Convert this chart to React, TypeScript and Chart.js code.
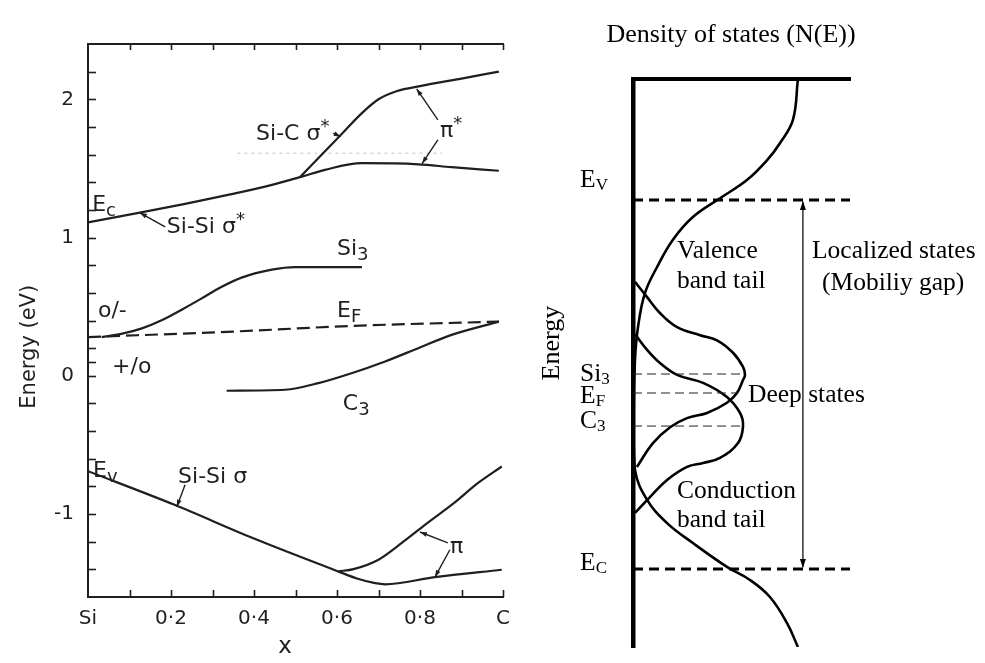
import React, { useEffect, useRef } from 'react';
import { Chart, registerables } from 'chart.js';

Chart.register(...registerables);

const LEFT_FONT = '"DejaVu Sans", "Liberation Sans", sans-serif';
const RIGHT_FONT = '"Liberation Serif", "Times New Roman", serif';
const LEFT_INK = '#1f1f1f';

// ---------------- Left panel: energy levels vs composition x ----------------
const xTickLabels = ['Si', '', '0·2', '', '0·4', '', '0·6', '', '0·8', '', 'C'];

// Ec (Si-Si sigma*) continuing into lower pi* branch
const ecX = [0, 0.125, 0.234, 0.346, 0.434, 0.511, 0.571, 0.66, 0.796, 0.876, 0.99];
const ecE = [1.11, 1.18, 1.244, 1.314, 1.374, 1.437, 1.49, 1.538, 1.53, 1.509, 1.483];
// Si-C sigma* branch -> upper pi*
const sicX = [0.511, 0.56, 0.61, 0.66, 0.7, 0.745, 0.8, 0.9, 0.99];
const sicE = [1.437, 1.59, 1.745, 1.9, 2.0, 2.06, 2.095, 2.15, 2.2];
// Si3 level
const si3X = [0.033, 0.08, 0.13, 0.18, 0.23, 0.274, 0.32, 0.37, 0.443, 0.5, 0.66];
const si3E = [0.28, 0.303, 0.343, 0.405, 0.485, 0.56, 0.64, 0.71, 0.768, 0.786, 0.786];
// Fermi level (dashed)
const efX = [0, 0.35, 0.63, 0.99];
const efE = [0.28, 0.32, 0.36, 0.392];
// C3 level
const c3X = [0.334, 0.475, 0.555, 0.635, 0.716, 0.796, 0.876, 0.99];
const c3E = [-0.108, -0.101, -0.053, 0.019, 0.104, 0.2, 0.296, 0.392];
// Ev (Si-Si sigma) continuing into lower pi branch
const evX = [0, 0.21, 0.394, 0.603, 0.65, 0.692, 0.716, 0.836, 0.997];
const evE = [-0.69, -0.935, -1.17, -1.415, -1.468, -1.5, -1.508, -1.456, -1.403];
// upper pi branch
const piX = [0.603, 0.64, 0.7, 0.76, 0.82, 0.88, 0.94, 0.997];
const piE = [-1.415, -1.398, -1.33, -1.2, -1.06, -0.925, -0.775, -0.656];
// faint scan trace
const faintX = [0.36, 0.853];
const faintE = [1.61, 1.61];

const extraYTicks = [0.1];

type Part = [string, 'n' | 'sub' | 'sup'];
const leftLabels: { parts: Part[]; x: number; y: number }[] = [
  { parts: [['E', 'n'], ['c', 'sub']], x: 0.01, y: 1.19 },
  { parts: [['Si-Si σ', 'n'], ['*', 'sup']], x: 0.19, y: 1.035 },
  { parts: [['Si-C σ', 'n'], ['*', 'sup']], x: 0.405, y: 1.706 },
  { parts: [['π', 'n'], ['*', 'sup']], x: 0.848, y: 1.728 },
  { parts: [['Si', 'n'], ['3', 'sub']], x: 0.6, y: 0.875 },
  { parts: [['o/-', 'n']], x: 0.024, y: 0.427 },
  { parts: [['E', 'n'], ['F', 'sub']], x: 0.6, y: 0.427 },
  { parts: [['+/o', 'n']], x: 0.058, y: 0.022 },
  { parts: [['C', 'n'], ['3', 'sub']], x: 0.614, y: -0.246 },
  { parts: [['E', 'n'], ['v', 'sub']], x: 0.012, y: -0.73 },
  { parts: [['Si-Si σ', 'n']], x: 0.217, y: -0.774 },
  { parts: [['π', 'n']], x: 0.872, y: -1.28 },
];
// leader lines: [textX, textY, curveX, curveY]
const leftLeaders: number[][] = [
  [0.186, 1.077, 0.125, 1.179],
  [0.591, 1.755, 0.609, 1.73],
  [0.843, 1.851, 0.792, 2.075],
  [0.843, 1.706, 0.805, 1.535],
  [0.234, -0.788, 0.214, -0.947],
  [0.867, -1.208, 0.8, -1.13],
  [0.872, -1.258, 0.836, -1.456],
];

// ---------------- Right panel: density of states ----------------
const dosN = [0.76, 0.737, 0.677, 0.618, 0.525, 0.401, 0.276, 0.184, 0.111, 0.055, 0.023, 0.009, 0.003, 0.009, 0.065, 0.157, 0.276, 0.433, 0.539, 0.631, 0.71, 0.76];
const dosE = [100, 92.8, 88.7, 85.7, 82.2, 79.0, 75.7, 71.7, 66.9, 62.3, 56.3, 50.5, 41, 31.2, 25.9, 21.8, 18.3, 14.1, 11.8, 8.8, 4.2, 0];
const deepSiN = [0.009, 0.065, 0.124, 0.203, 0.309, 0.387, 0.461, 0.507, 0.516, 0.507, 0.479, 0.433, 0.341, 0.249, 0.171, 0.092, 0.018];
const deepSiE = [64.3, 61.6, 58.8, 56.3, 54.9, 54.0, 51.8, 49.3, 47.9, 47.0, 44.7, 43.0, 41.2, 40.3, 38.7, 35.9, 31.7];
const deepCN = [0.009, 0.065, 0.124, 0.203, 0.323, 0.433, 0.493, 0.507, 0.484, 0.401, 0.323, 0.249, 0.157, 0.078, 0.009];
const deepCE = [55.1, 52.3, 50.0, 47.9, 46.5, 44.0, 41.2, 38.9, 35.9, 33.3, 32.4, 31.7, 29.4, 26.4, 23.6];

const levelE = [78.7, 48.06, 44.72, 38.9, 13.73]; // EV, Si3, EF, C3, EC
const levelEnd = [1, 0.516, 0.484, 0.502, 1];
const levelThick = [true, false, false, false, true];
const gapArrowN = 0.783;

const rightLabels: { parts: Part[]; x: number; y: number; align?: 'left' | 'center'; size?: number }[] = [
  { parts: [['Density of states (N(E))', 'n']], x: 0.452, y: 106.6, align: 'center', size: 26 },
  { parts: [['E', 'n'], ['V', 'sub']], x: -0.244, y: 81.0 },
  { parts: [['Si', 'n'], ['3', 'sub']], x: -0.244, y: 46.8 },
  { parts: [['E', 'n'], ['F', 'sub']], x: -0.244, y: 42.96 },
  { parts: [['C', 'n'], ['3', 'sub']], x: -0.244, y: 38.6 },
  { parts: [['E', 'n'], ['C', 'sub']], x: -0.244, y: 13.56 },
  { parts: [['Valence', 'n']], x: 0.203, y: 68.5 },
  { parts: [['band tail', 'n']], x: 0.203, y: 63.2 },
  { parts: [['Localized states', 'n']], x: 0.825, y: 68.5 },
  { parts: [['(Mobiliy gap)', 'n']], x: 0.871, y: 62.9 },
  { parts: [['Deep states', 'n']], x: 0.53, y: 43.1 },
  { parts: [['Conduction', 'n']], x: 0.203, y: 26.2 },
  { parts: [['band tail', 'n']], x: 0.203, y: 21.1 },
];

const pts = (xs: number[], ys: number[]) => xs.map((x, i) => ({ x, y: ys[i] }));

function drawRich(
  ctx: CanvasRenderingContext2D,
  parts: Part[],
  x: number,
  y: number,
  size: number,
  family: string,
  subScale: number,
  subDy: number,
  supDy: number,
  align: 'left' | 'center' = 'left'
) {
  const fontOf = (k: string) => `${k === 'n' ? size : Math.round(size * subScale)}px ${family}`;
  let w = 0;
  for (const [t, k] of parts) {
    ctx.font = fontOf(k);
    w += ctx.measureText(t).width;
  }
  let cx = align === 'center' ? x - w / 2 : x;
  ctx.textAlign = 'left';
  ctx.textBaseline = 'alphabetic';
  for (const [t, k] of parts) {
    ctx.font = fontOf(k);
    const dy = k === 'sub' ? subDy : k === 'sup' ? supDy : 0;
    ctx.fillText(t, cx, y + dy);
    cx += ctx.measureText(t).width;
  }
}

function arrowHead(ctx: CanvasRenderingContext2D, x1: number, y1: number, x2: number, y2: number, len: number, half: number) {
  const a = Math.atan2(y2 - y1, x2 - x1);
  ctx.beginPath();
  ctx.moveTo(x2, y2);
  ctx.lineTo(x2 - len * Math.cos(a) + half * Math.sin(a), y2 - len * Math.sin(a) - half * Math.cos(a));
  ctx.lineTo(x2 - len * Math.cos(a) - half * Math.sin(a), y2 - len * Math.sin(a) + half * Math.cos(a));
  ctx.closePath();
  ctx.fill();
}

const leftDeco = {
  id: 'leftDeco',
  afterDraw(chart: any) {
    const { ctx, chartArea } = chart;
    const xs = chart.scales.x;
    const ys = chart.scales.y;
    ctx.save();
    ctx.strokeStyle = LEFT_INK;
    ctx.fillStyle = LEFT_INK;
    ctx.lineWidth = 1.6;
    // inward ticks
    const yVals = ys.ticks.map((t: any) => t.value).concat(extraYTicks);
    for (const v of yVals) {
      if (v <= -1.59 || v >= 2.39) continue;
      const py = Math.round(ys.getPixelForValue(v)) + 0.5;
      ctx.beginPath();
      ctx.moveTo(chartArea.left, py);
      ctx.lineTo(chartArea.left + 8, py);
      ctx.stroke();
    }
    for (const t of xs.ticks) {
      const v = t.value;
      if (v < 0.05) continue;
      const px = Math.round(xs.getPixelForValue(v)) + 0.5;
      ctx.beginPath();
      ctx.moveTo(px, chartArea.bottom);
      ctx.lineTo(px, chartArea.bottom - 7);
      ctx.moveTo(px, chartArea.top);
      ctx.lineTo(px, chartArea.top + 6);
      ctx.stroke();
    }
    // leaders
    ctx.lineWidth = 1.4;
    for (const [tx, ty, cx, cy] of leftLeaders) {
      const x1 = xs.getPixelForValue(tx), y1 = ys.getPixelForValue(ty);
      const x2 = xs.getPixelForValue(cx), y2 = ys.getPixelForValue(cy);
      ctx.beginPath();
      ctx.moveTo(x1, y1);
      ctx.lineTo(x2, y2);
      ctx.stroke();
      arrowHead(ctx, x1, y1, x2, y2, 7, 2.4);
    }
    // labels
    for (const l of leftLabels) {
      drawRich(ctx, l.parts, xs.getPixelForValue(l.x), ys.getPixelForValue(l.y), 22, LEFT_FONT, 0.8, 5, -8);
    }
    // axis titles
    ctx.font = `21px ${LEFT_FONT}`;
    ctx.textAlign = 'center';
    ctx.textBaseline = 'middle';
    ctx.save();
    ctx.translate(xs.getPixelForValue(-0.14), ys.getPixelForValue(0.21));
    ctx.rotate(-Math.PI / 2);
    ctx.fillText('Energy (eV)', 0, 0);
    ctx.restore();
    ctx.font = `23px ${LEFT_FONT}`;
    ctx.fillText('x', xs.getPixelForValue(0.475), ys.getPixelForValue(-1.96));
    ctx.restore();
  },
};

const rightDeco = {
  id: 'rightDeco',
  afterDraw(chart: any) {
    const { ctx } = chart;
    const xs = chart.scales.x;
    const ys = chart.scales.y;
    ctx.save();
    ctx.fillStyle = '#000';
    ctx.strokeStyle = '#000';
    // gap arrow heads
    const ax = xs.getPixelForValue(gapArrowN);
    const yTop = ys.getPixelForValue(levelE[0]);
    const yBot = ys.getPixelForValue(levelE[4]);
    arrowHead(ctx, ax, yTop + 20, ax, yTop + 1, 9, 3);
    arrowHead(ctx, ax, yBot - 20, ax, yBot - 1, 9, 3);
    for (const l of rightLabels) {
      drawRich(ctx, l.parts, xs.getPixelForValue(l.x), ys.getPixelForValue(l.y), l.size ?? 25.5, RIGHT_FONT, 0.66, 3, -8, l.align ?? 'left');
    }
    ctx.font = `26px ${RIGHT_FONT}`;
    ctx.textAlign = 'center';
    ctx.textBaseline = 'middle';
    ctx.translate(xs.getPixelForValue(-0.373), ys.getPixelForValue(53.5));
    ctx.rotate(-Math.PI / 2);
    ctx.fillText('Energy', 0, 0);
    ctx.restore();
  },
};

export default function App() {
  const leftRef = useRef<HTMLCanvasElement>(null);
  const rightRef = useRef<HTMLCanvasElement>(null);

  useEffect(() => {
    const curve = (data: { x: number; y: number }[], extra: any = {}) => ({
      data,
      showLine: true,
      borderColor: LEFT_INK,
      borderWidth: 2.2,
      pointRadius: 0,
      cubicInterpolationMode: 'monotone',
      fill: false,
      ...extra,
    });
    const left = new Chart(leftRef.current!, {
      type: 'scatter',
      data: {
        datasets: [
          curve(pts(faintX, faintE), { borderColor: 'rgba(0,0,0,0.16)', borderWidth: 1.5, borderDash: [3, 4], cubicInterpolationMode: 'default', tension: 0 }),
          curve(pts(ecX, ecE)),
          curve(pts(sicX, sicE)),
          curve(pts(si3X, si3E)),
          curve(pts(efX, efE), { borderDash: [13, 6] }),
          curve(pts(c3X, c3E)),
          curve(pts(evX, evE)),
          curve(pts(piX, piE)),
        ],
      },
      options: {
        animation: false,
        responsive: false,
        maintainAspectRatio: false,
        layout: { padding: { left: 0, right: 17, top: 0, bottom: 0 } },
        plugins: { legend: { display: false }, tooltip: { enabled: false }, title: { display: false } },
        scales: {
          x: {
            type: 'linear',
            position: 'bottom',
            min: 0,
            max: 1,
            afterFit: (s: any) => { s.height = 66; },
            grid: { display: false, drawTicks: false },
            border: { display: true, color: LEFT_INK, width: 2 },
            ticks: {
              stepSize: 0.1,
              autoSkip: false,
              maxRotation: 0,
              padding: 10,
              color: LEFT_INK,
              font: { family: LEFT_FONT, size: 20 },
              callback: (v: any) => xTickLabels[Math.round(Number(v) * 10)] ?? '',
            },
          },
          xTop: {
            type: 'linear',
            position: 'top',
            min: 0,
            max: 1,
            afterFit: (s: any) => { s.height = 44; },
            grid: { display: false, drawTicks: false },
            border: { display: true, color: LEFT_INK, width: 2 },
            ticks: { display: false },
          },
          y: {
            type: 'linear',
            position: 'left',
            min: -1.6,
            max: 2.4,
            afterFit: (s: any) => { s.width = 88; },
            grid: { display: false, drawTicks: false },
            border: { display: true, color: LEFT_INK, width: 2 },
            ticks: {
              stepSize: 0.2,
              autoSkip: false,
              padding: 14,
              color: LEFT_INK,
              font: { family: LEFT_FONT, size: 20 },
              callback: (v: any) => {
                const n = Number(v);
                return Math.abs(n - Math.round(n)) < 1e-6 ? String(Math.round(n)) : '';
              },
            },
          },
        },
      },
      plugins: [leftDeco],
    } as any);

    const rline = (data: { x: number; y: number }[], extra: any = {}) => ({
      data,
      showLine: true,
      borderColor: '#000',
      borderWidth: 2.6,
      pointRadius: 0,
      tension: 0.4,
      fill: false,
      ...extra,
    });
    const levelSets = levelE.map((e, i) =>
      rline(pts([0, levelEnd[i]], [e, e]), levelThick[i]
        ? { borderWidth: 3, borderDash: [10, 6], tension: 0 }
        : { borderWidth: 1, borderDash: [9, 5], tension: 0, borderColor: '#222' })
    );
    const right = new Chart(rightRef.current!, {
      type: 'scatter',
      data: {
        datasets: [
          ...levelSets,
          rline(pts([gapArrowN, gapArrowN], [levelE[0] - 0.3, levelE[4] + 0.3]), { borderWidth: 1.2, tension: 0 }),
          rline(pts(dosN, dosE)),
          rline(pts(deepSiN, deepSiE)),
          rline(pts(deepCN, deepCE)),
        ],
      },
      options: {
        animation: false,
        responsive: false,
        maintainAspectRatio: false,
        layout: { padding: { left: 93, right: 135, top: 79, bottom: 16 } },
        plugins: { legend: { display: false }, tooltip: { enabled: false }, title: { display: false } },
        scales: {
          x: {
            type: 'linear',
            position: 'top',
            min: 0,
            max: 1,
            afterFit: (s: any) => { s.height = 0; },
            grid: { display: false, drawTicks: false },
            border: { display: true, color: '#000', width: 4 },
            ticks: { display: false },
          },
          y: {
            type: 'linear',
            position: 'left',
            min: 0,
            max: 100,
            afterFit: (s: any) => { s.width = 0; },
            grid: { display: false, drawTicks: false },
            border: { display: true, color: '#000', width: 4.5 },
            ticks: { display: false },
          },
        },
      },
      plugins: [rightDeco],
    } as any);

    return () => {
      left.destroy();
      right.destroy();
    };
  }, []);

  return (
    <div style={{ position: 'absolute', left: 0, top: 0, width: 985, height: 663, background: '#fff', overflow: 'hidden' }}>
      <canvas ref={leftRef} width={520} height={663} style={{ position: 'absolute', left: 0, top: 0, width: 520, height: 663 }} />
      <canvas ref={rightRef} width={445} height={663} style={{ position: 'absolute', left: 540, top: 0, width: 445, height: 663 }} />
    </div>
  );
}
